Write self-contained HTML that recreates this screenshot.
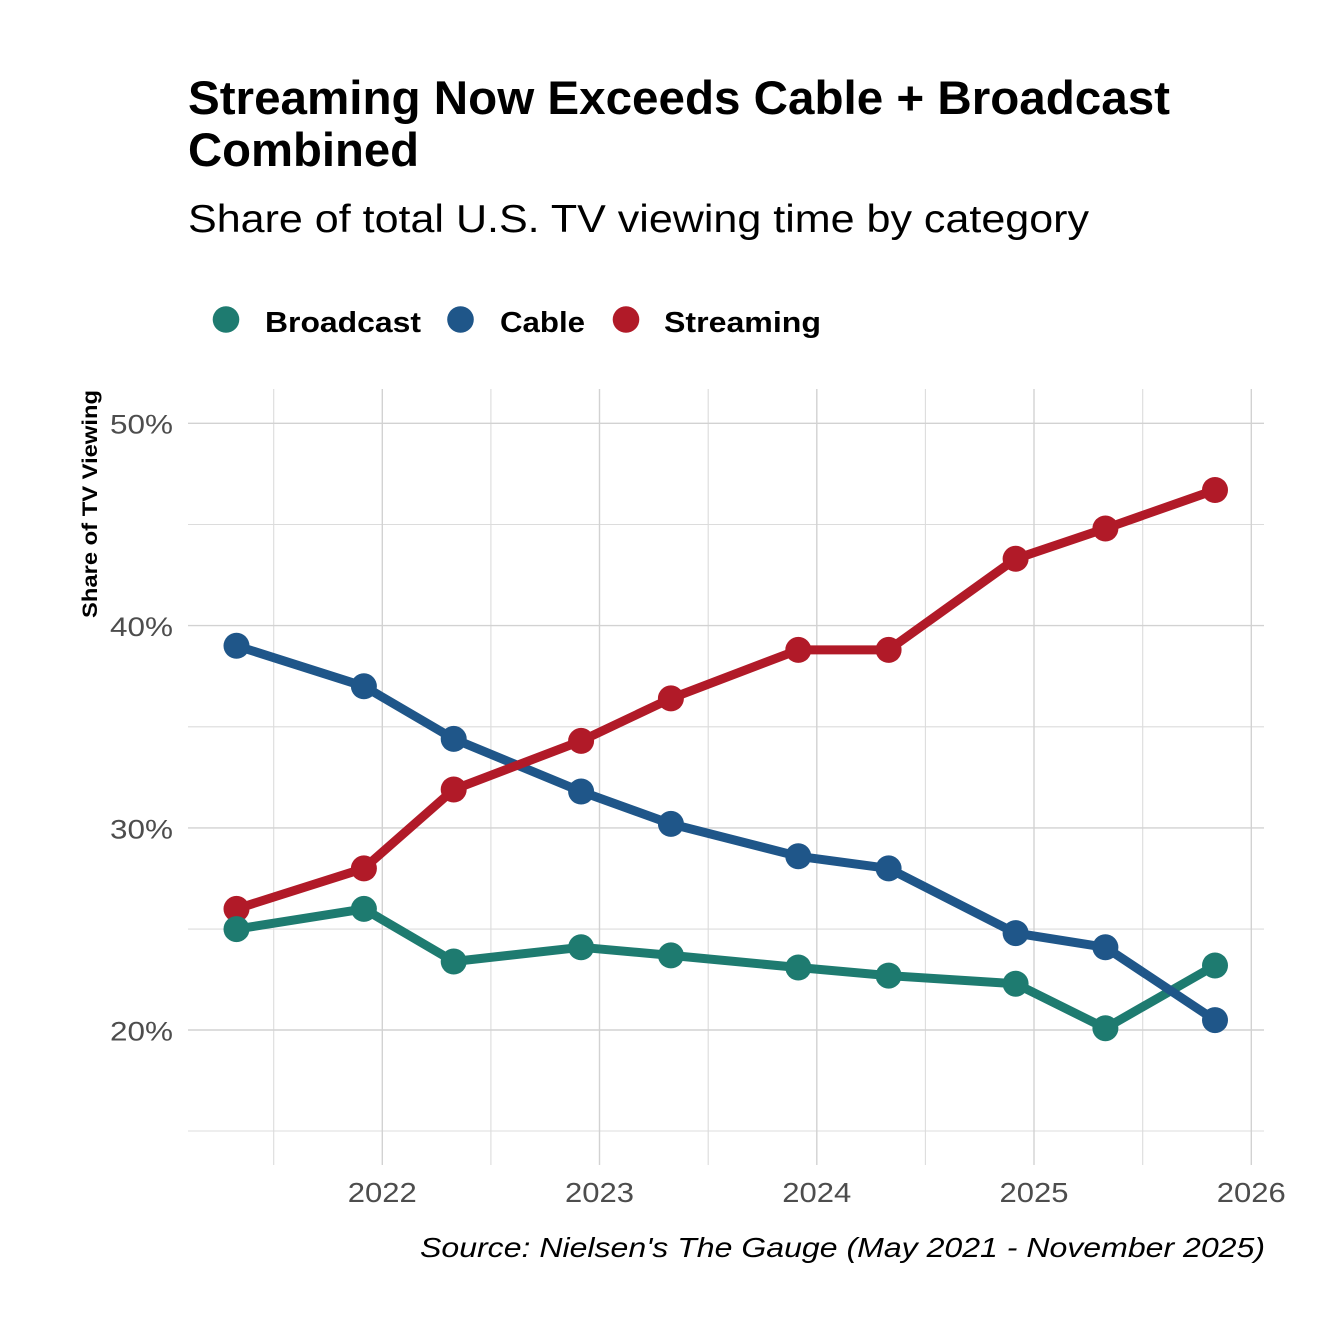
<!DOCTYPE html>
<html>
<head>
<meta charset="utf-8">
<style>
html,body{margin:0;padding:0;background:#fff;}
svg{display:block;}
text{font-family:"Liberation Sans",sans-serif;}
</style>
</head>
<body>
<svg width="1344" height="1344" viewBox="0 0 1344 1344" xmlns="http://www.w3.org/2000/svg">
<rect width="1344" height="1344" fill="#fff"/>
<!-- Title -->
<text x="188" y="114" font-size="47" font-weight="bold" fill="#000" textLength="982" lengthAdjust="spacingAndGlyphs">Streaming Now Exceeds Cable + Broadcast</text>
<text x="188" y="166" font-size="47" font-weight="bold" fill="#000" textLength="231" lengthAdjust="spacingAndGlyphs">Combined</text>
<text x="188" y="232" font-size="39" fill="#000" textLength="901" lengthAdjust="spacingAndGlyphs">Share of total U.S. TV viewing time by category</text>
<!-- Legend -->
<circle cx="226" cy="319.5" r="13.3" fill="#1E7B70"/>
<text x="265" y="332" font-size="29" font-weight="bold" fill="#000" textLength="156" lengthAdjust="spacingAndGlyphs">Broadcast</text>
<circle cx="460.5" cy="319.5" r="13.3" fill="#1F5689"/>
<text x="500" y="332" font-size="29" font-weight="bold" fill="#000" textLength="85" lengthAdjust="spacingAndGlyphs">Cable</text>
<circle cx="626" cy="319.5" r="13.3" fill="#B11A28"/>
<text x="664" y="332" font-size="29" font-weight="bold" fill="#000" textLength="157" lengthAdjust="spacingAndGlyphs">Streaming</text>
<!-- Grid -->
<g stroke="#dcdcdc" stroke-width="1.1">
<line x1="188" x2="1264" y1="1131" y2="1131"/>
<line x1="188" x2="1264" y1="929.1" y2="929.1"/>
<line x1="188" x2="1264" y1="726.8" y2="726.8"/>
<line x1="188" x2="1264" y1="524.5" y2="524.5"/>
<line x1="273.7" x2="273.7" y1="389" y2="1165"/>
<line x1="490.9" x2="490.9" y1="389" y2="1165"/>
<line x1="708.2" x2="708.2" y1="389" y2="1165"/>
<line x1="925.4" x2="925.4" y1="389" y2="1165"/>
<line x1="1142.7" x2="1142.7" y1="389" y2="1165"/>
</g>
<g stroke="#d2d2d2" stroke-width="1.4">
<line x1="188" x2="1264" y1="1030" y2="1030"/>
<line x1="188" x2="1264" y1="827.9" y2="827.9"/>
<line x1="188" x2="1264" y1="625.6" y2="625.6"/>
<line x1="188" x2="1264" y1="423.3" y2="423.3"/>
<line x1="382.3" x2="382.3" y1="389" y2="1165"/>
<line x1="599.5" x2="599.5" y1="389" y2="1165"/>
<line x1="816.8" x2="816.8" y1="389" y2="1165"/>
<line x1="1034" x2="1034" y1="389" y2="1165"/>
<line x1="1251.3" x2="1251.3" y1="389" y2="1165"/>
</g>
<!-- Y labels -->
<g font-size="27" fill="#4d4d4d" text-anchor="end">
<text x="173" y="433.5" textLength="63" lengthAdjust="spacingAndGlyphs">50%</text>
<text x="173" y="636" textLength="63" lengthAdjust="spacingAndGlyphs">40%</text>
<text x="173" y="838.3" textLength="63" lengthAdjust="spacingAndGlyphs">30%</text>
<text x="173" y="1040.5" textLength="63" lengthAdjust="spacingAndGlyphs">20%</text>
</g>
<!-- X labels -->
<g font-size="28" fill="#4d4d4d" text-anchor="middle">
<text x="382.3" y="1202" textLength="69" lengthAdjust="spacingAndGlyphs">2022</text>
<text x="599.5" y="1202" textLength="69" lengthAdjust="spacingAndGlyphs">2023</text>
<text x="816.8" y="1202" textLength="69" lengthAdjust="spacingAndGlyphs">2024</text>
<text x="1034" y="1202" textLength="69" lengthAdjust="spacingAndGlyphs">2025</text>
<text x="1251.3" y="1202" textLength="69" lengthAdjust="spacingAndGlyphs">2026</text>
</g>
<!-- Axis title -->
<text transform="translate(97,504) rotate(-90)" font-size="21" font-weight="bold" fill="#000" text-anchor="middle" textLength="228" lengthAdjust="spacingAndGlyphs">Share of TV Viewing</text>
<!-- Lines -->
<g fill="none" stroke-width="9" stroke-linejoin="round" stroke-linecap="butt">
<polyline stroke="#1E7B70" points="236.5,929.1 363.9,908.9 453.7,961.5 581.1,947.3 670.9,955.4 798.3,967.5 888.6,975.6 1015.6,983.7 1105.4,1028.2 1215,965.5"/>
<polyline stroke="#1F5689" points="236.5,645.8 363.9,686.3 453.7,738.9 581.1,791.5 670.9,823.9 798.3,856.3 888.6,868.4 1015.6,933.1 1105.4,947.3 1215,1020.1"/>
<polyline stroke="#B11A28" points="236.5,908.9 363.9,868.4 453.7,789.5 581.1,740.9 670.9,698.4 798.3,649.9 888.6,649.9 1015.6,558.8 1105.4,528.5 1215,490"/>
</g>
<!-- Points -->
<g fill="#B11A28">
<circle cx="236.5" cy="908.9" r="13"/><circle cx="363.9" cy="868.4" r="13"/><circle cx="453.7" cy="789.5" r="13"/><circle cx="581.1" cy="740.9" r="13"/><circle cx="670.9" cy="698.4" r="13"/><circle cx="798.3" cy="649.9" r="13"/><circle cx="888.6" cy="649.9" r="13"/><circle cx="1015.6" cy="558.8" r="13"/><circle cx="1105.4" cy="528.5" r="13"/><circle cx="1215" cy="490" r="13"/>
</g>
<g fill="#1F5689">
<circle cx="236.5" cy="645.8" r="13"/><circle cx="363.9" cy="686.3" r="13"/><circle cx="453.7" cy="738.9" r="13"/><circle cx="581.1" cy="791.5" r="13"/><circle cx="670.9" cy="823.9" r="13"/><circle cx="798.3" cy="856.3" r="13"/><circle cx="888.6" cy="868.4" r="13"/><circle cx="1015.6" cy="933.1" r="13"/><circle cx="1105.4" cy="947.3" r="13"/><circle cx="1215" cy="1020.1" r="13"/>
</g>
<g fill="#1E7B70">
<circle cx="236.5" cy="929.1" r="13"/><circle cx="363.9" cy="908.9" r="13"/><circle cx="453.7" cy="961.5" r="13"/><circle cx="581.1" cy="947.3" r="13"/><circle cx="670.9" cy="955.4" r="13"/><circle cx="798.3" cy="967.5" r="13"/><circle cx="888.6" cy="975.6" r="13"/><circle cx="1015.6" cy="983.7" r="13"/><circle cx="1105.4" cy="1028.2" r="13"/><circle cx="1215" cy="965.5" r="13"/>
</g>
<!-- Caption -->
<text x="1265" y="1257" font-size="28" font-style="italic" fill="#000" text-anchor="end" textLength="845" lengthAdjust="spacingAndGlyphs">Source: Nielsen's The Gauge (May 2021 - November 2025)</text>
</svg>
</body>
</html>
